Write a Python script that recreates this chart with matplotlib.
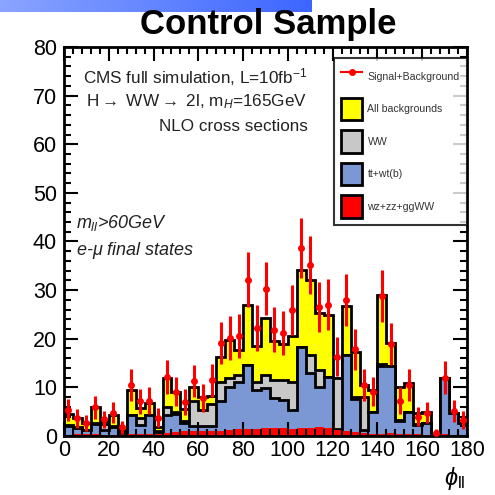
import numpy as np
import matplotlib
matplotlib.use("Agg")
import matplotlib.pyplot as plt
from matplotlib.patches import Patch
from matplotlib.lines import Line2D

plt.rcParams['font.family'] = ['Liberation Sans', 'DejaVu Sans']
plt.rcParams['mathtext.fontset'] = 'custom'
plt.rcParams['mathtext.rm'] = 'Liberation Sans'
plt.rcParams['mathtext.it'] = 'Liberation Sans:italic'

# bin edges: 45 bins of 4 degrees
edges = np.arange(0, 181, 4)

# stacked levels (cumulative heights, as drawn)
all_bkg = [4.5, 3.6, 2.6, 6.0, 3.0, 4.3, 1.2, 9.5, 5.7, 6.7,
           1.8, 12.0, 9.0, 5.5, 10.0, 8.1, 8.2, 16.3, 19.8, 17.7,
           27.0, 18.5, 24.2, 19.5, 19.0, 20.5, 34.2, 32.0, 25.3, 24.9,
           11.9, 26.7, 17.2, 10.5, 9.5, 29.0, 19.1, 10.1, 10.8, 4.8,
           5.0, 0.3, 11.9, 4.7, 2.7]
ww_top = [2.3, 1.8, 1.3, 2.6, 2.5, 2.0, 0.8, 4.3, 3.6, 4.3,
          1.0, 6.0, 4.9, 3.0, 7.1, 5.3, 6.5, 11.2, 12.0, 12.5,
          14.6, 11.2, 12.6, 11.5, 11.5, 11.2, 18.4, 16.7, 13.6, 12.2,
          11.9, 16.7, 8.0, 8.1, 5.0, 14.8, 14.3, 3.3, 5.0, 2.4,
          2.6, 0.3, 11.9, 4.7, 2.7]
tt_top = [2.0, 1.6, 1.2, 2.4, 1.2, 1.9, 0.7, 4.3, 2.3, 4.3,
          0.8, 4.3, 4.5, 2.6, 2.0, 2.0, 2.0, 7.1, 10.0, 11.2,
          14.6, 9.5, 9.8, 7.8, 7.4, 5.3, 18.4, 13.0, 10.1, 12.2,
          1.5, 16.7, 7.7, 1.3, 5.0, 14.3, 14.3, 3.0, 5.0, 2.3,
          2.6, 0.3, 11.9, 4.7, 2.7]
other = [0.3, 0.4, 0.5, 0.4, 0.3, 0.3, 0.3, 0.4, 0.4, 0.4,
         0.5, 0.6, 0.8, 1.0, 1.0, 1.0, 1.1, 1.1, 1.3, 1.4,
         1.4, 1.5, 1.7, 1.6, 1.7, 1.5, 1.6, 1.7, 1.8, 1.6,
         1.3, 1.0, 0.8, 0.6, 0.5, 0.5, 0.6, 0.4, 0.4, 0.4,
         0.3, 0.3, 0.4, 0.3, 0.3]
sig_bkg = [5.3, 3.6, 2.7, 5.9, 3.4, 4.8, 1.8, 10.5, 7.1, 7.3,
           3.8, 12.2, 9.1, 7.0, 11.3, 7.8, 11.5, 19.1, 20.2, 20.6,
           32.1, 22.2, 30.3, 21.9, 21.2, 25.9, 38.7, 35.2, 26.5, 27.0,
           16.3, 28.0, 17.8, 10.5, 9.1, 28.8, 18.9, 7.3, 10.5, 4.0,
           4.8, 0.6, 12.0, 5.2, 3.3]

fig = plt.figure(figsize=(4.95, 4.95), dpi=100)

# slide decoration bar at the top
bar = fig.add_axes([0, 1 - 12 / 495, 312 / 495, 12 / 495])
grad = np.linspace(0, 1, 256).reshape(1, -1)
cmap = matplotlib.colors.LinearSegmentedColormap.from_list("b", ["#8aa4ff", "#3c66ff"])
bar.imshow(grad, aspect="auto", cmap=cmap)
bar.axis("off")

fig.text(0.541, 0.951, "Control Sample", ha="center", va="center",
         fontsize=25, fontweight="bold")

ax = fig.add_axes([64 / 495, 1 - 436 / 495, 403 / 495, 389 / 495])

lw = 2.0
ax.stairs(all_bkg, edges, fill=True, facecolor="#ffff00", edgecolor="none")
ax.stairs(all_bkg, edges, color="black", linewidth=lw)
ax.stairs(ww_top, edges, fill=True, facecolor="#c8c8c8", edgecolor="none")
ax.stairs(ww_top, edges, color="black", linewidth=lw)
ax.stairs(tt_top, edges, fill=True, facecolor="#7b98d4", edgecolor="none")
ax.stairs(tt_top, edges, color="black", linewidth=lw)
ax.stairs(other, edges, fill=True, facecolor="#ff0000", edgecolor="none")

centers = 0.5 * (edges[:-1] + edges[1:])
sig = np.array(sig_bkg)
ax.errorbar(centers, sig, yerr=np.sqrt(sig), fmt="o", color="red",
            ms=4, elinewidth=2.2, capsize=0, zorder=5)

ax.set_xlim(0, 180)
ax.set_ylim(0, 80)
ax.set_xticks(np.arange(0, 181, 20))
ax.set_xticks(np.arange(0, 181, 4), minor=True)
ax.set_yticks(np.arange(0, 81, 10))
ax.set_yticks(np.arange(0, 81, 2), minor=True)
ax.tick_params(which="both", direction="in", top=True, right=True, width=1.5)
ax.tick_params(which="major", length=10, labelsize=15.5)
ax.tick_params(axis="x", which="major", pad=3)
ax.tick_params(axis="y", which="major", pad=5)
ax.tick_params(which="minor", length=5)
for s in ax.spines.values():
    s.set_linewidth(2)

fig.text(455 / 495, 1 - 478 / 495, r"$\phi_{\mathrm{ll}}$", fontsize=17,
         ha="center", va="center")

txt = "#222222"
ax.text(0.604, 0.924, r"CMS full simulation, L=10fb$^{-1}$", transform=ax.transAxes,
        ha="right", va="center", fontsize=12.3, color=txt)
ax.text(0.604, 0.859, r"H$\rightarrow$ WW$\rightarrow$ 2l, m$_{H}$=165GeV", transform=ax.transAxes,
        ha="right", va="center", fontsize=12.3, color=txt)
ax.text(0.604, 0.795, "NLO cross sections", transform=ax.transAxes,
        ha="right", va="center", fontsize=12.3, color=txt)
ax.text(0.03, 0.548, r"$m_{ll}$>60GeV", transform=ax.transAxes,
        ha="left", va="center", fontsize=13, style="italic", color=txt)
ax.text(0.03, 0.478, r"e-$\mu$ final states", transform=ax.transAxes,
        ha="left", va="center", fontsize=13, style="italic", color=txt)

handles = [
    Line2D([0], [0], color="red", marker="o", ms=4, lw=1.5),
    Patch(facecolor="#ffff00", edgecolor="black", linewidth=2),
    Patch(facecolor="#c8c8c8", edgecolor="black", linewidth=2),
    Patch(facecolor="#7b98d4", edgecolor="black", linewidth=2),
    Patch(facecolor="#ff0000", edgecolor="black", linewidth=2),
]
labels = ["Signal+Background", "All backgrounds", "WW", "tt+wt(b)", "wz+zz+ggWW"]
leg = ax.legend(handles, labels, loc="upper right", bbox_to_anchor=(1.0, 0.972),
                fontsize=7.6, frameon=True, fancybox=False, handlelength=2.0,
                handleheight=2.9, labelspacing=0.95, borderpad=0.7,
                handletextpad=0.5, borderaxespad=0.0)
leg.get_frame().set_edgecolor("black")
leg.get_frame().set_linewidth(1.5)
for t in leg.get_texts():
    t.set_color("#333333")

fig.savefig("out.png", dpi=100)
